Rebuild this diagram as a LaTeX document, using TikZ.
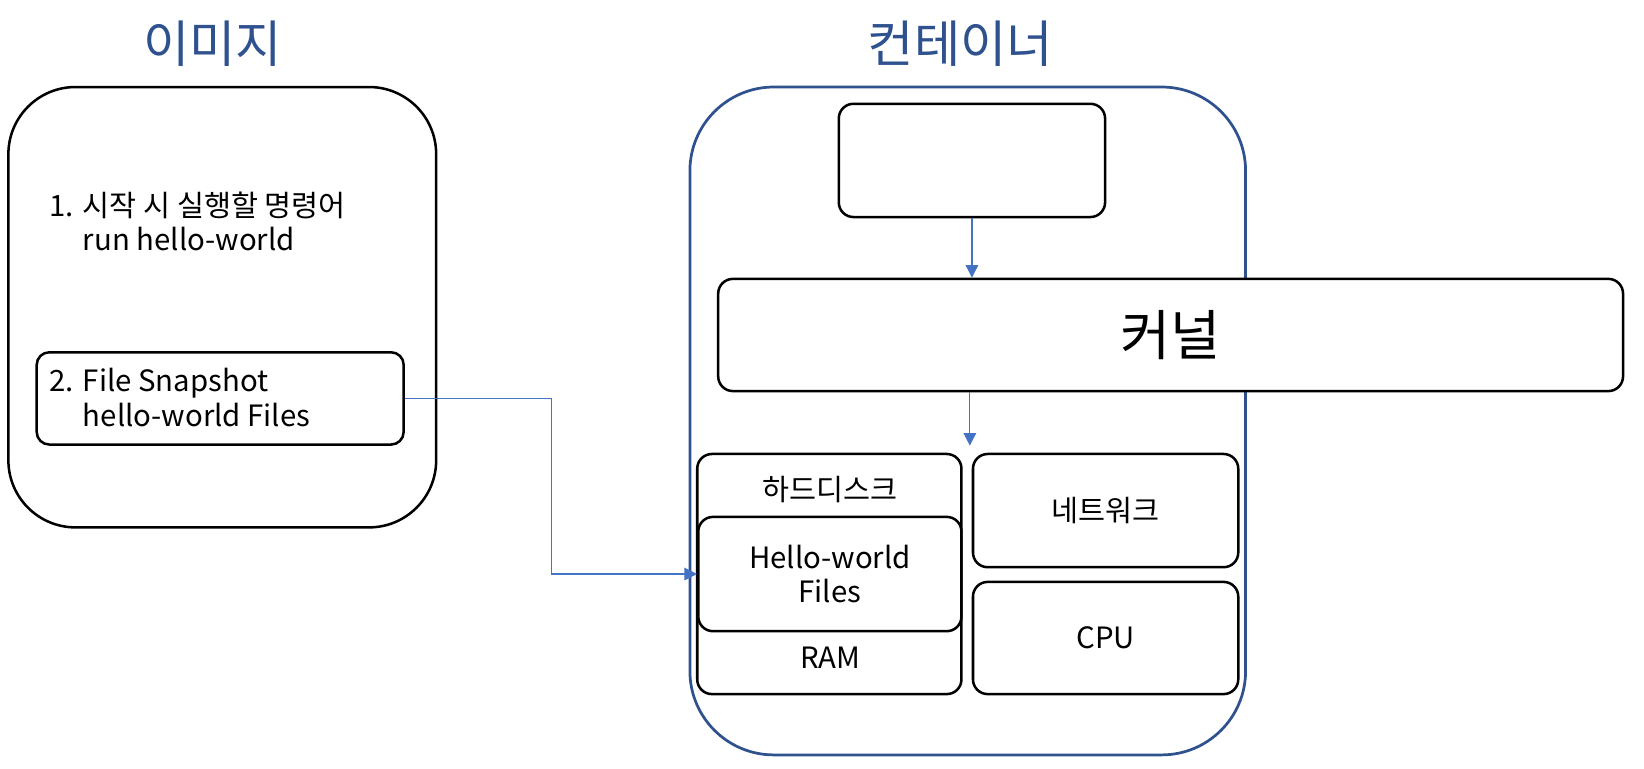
\documentclass[tikz,border=0pt]{standalone}
\usepackage{fontspec}
\setmainfont{Noto Sans CJK KR}
\usetikzlibrary{arrows.meta}
\definecolor{titleblue}{HTML}{2F528F}
\definecolor{linkblue}{HTML}{4472C4}
\begin{document}
\begin{tikzpicture}[x=0.5pt, y=-0.5pt,
  box/.style={draw, line width=1.2pt, rounded corners=7pt, fill=white, inner sep=0pt},
  link/.style={linkblue, line width=0.6pt, -{Triangle[length=6pt,width=6pt]}},
  txt/.style={font=\fontsize{14}{16.5}\selectfont},
  title/.style={titleblue, font=\fontsize{24}{28}\selectfont}]
  \useasboundingbox (0,0) rectangle (1568,733);

  \node[title] (imgtitle) at (203,42) {이미지};
  \node[box, rounded corners=32pt, minimum width=204pt, minimum height=210pt] (image) at (212,293) {};
  \node[txt, anchor=west, align=left, inner sep=0pt] (cmd) at (47,211) {1. 시작 시 실행할 명령어\\\phantom{1. }run hello-world};
  \node[box, rounded corners=6pt, minimum width=175pt, minimum height=44pt] (snap) at (210,380) {};
  \node[txt, anchor=west, align=left, inner sep=0pt] (snaptext) at (47,379) {2. File Snapshot\\\phantom{2. }hello-world Files};

  \node[title] (ctitle) at (916,42) {컨테이너};
  \node[box, draw=titleblue, line width=1.3pt, rounded corners=40pt, minimum width=265pt, minimum height=318.5pt] (container) at (923,401.5) {};
  \node[box, minimum width=127pt, minimum height=54pt] (top) at (927,153) {};
  \node[box, minimum width=431.5pt, minimum height=53.5pt, font=\fontsize{26}{30}\selectfont] (kernel) at (1116.5,319.5) {커널};
  \node[box, minimum width=126pt, minimum height=114.5pt] (hdd) at (791,547.5) {};
  \node[txt] (hddtext) at (792,467) {하드디스크};
  \node[txt] (ramtext) at (792,627) {RAM};
  \node[box, txt, align=center, minimum width=125.5pt, minimum height=54.5pt] (files) at (791.5,547.5) {Hello-world\\Files};
  \node[box, txt, minimum width=126.5pt, minimum height=54pt] (net) at (1054.5,487) {네트워크};
  \node[box, txt, minimum width=126.5pt, minimum height=53.5pt] (cpu) at (1054.5,608.5) {CPU};

  \coordinate (res) at (925,425);
  \draw[link] (top.south) -- (top.south |- kernel.north);
  \draw[link] (kernel.south -| res) -- (res);
  \draw[link] (snap.east) -- ++(140,0) |- (files.west);
\end{tikzpicture}
\end{document}
